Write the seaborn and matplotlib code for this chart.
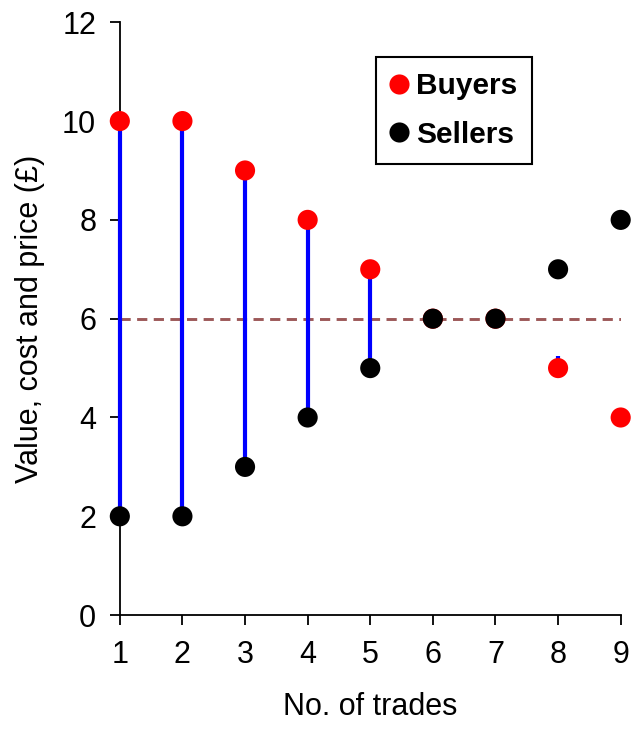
import pandas as pd
import matplotlib.pyplot as plt
import seaborn as sns

# Veriler
trades = [1, 2, 3, 4, 5, 6, 7, 8, 9]
buyers = [10, 10, 9, 8, 7, 6, 6, 5, 4]
sellers = [2, 2, 3, 4, 5, 6, 6, 7, 8]
# mavi çizgiler: alıcı ile satıcı arasındaki fark (6-7 eşit, 8'de küçük bir parça)
line_trades = [1, 2, 3, 4, 5, 8]
line_low = [2, 2, 3, 4, 5, 5]
line_high = [10, 10, 9, 8, 7, 5.25]
equilibrium = 6

sns.set_style("white")
plt.rcParams['font.family'] = ['Liberation Sans', 'DejaVu Sans']
plt.rcParams['text.color'] = 'black'
plt.rcParams['axes.labelcolor'] = 'black'

df = pd.DataFrame({
    'trade': trades * 2,
    'value': buyers + sellers,
    'group': ['Buyers'] * len(trades) + ['Sellers'] * len(trades),
})

fig = plt.figure(figsize=(6.34, 7.42), dpi=100)
ax = fig.add_axes([0.189, 0.171, 0.79, 0.799])

ax.vlines(line_trades, line_low, line_high, color='#0000ff', lw=3,
          zorder=2.7, clip_on=False)
ax.axhline(equilibrium, color='#9c5858', lw=2.1, ls=(0, (3.5, 2.2)), zorder=1)

sns.scatterplot(data=df, x='trade', y='value', hue='group',
                palette={'Buyers': '#ff0000', 'Sellers': '#000000'},
                s=210, edgecolor='none', ax=ax, zorder=3, clip_on=False)

ax.set_xlim(1, 9)
ax.set_ylim(0, 12)
ax.set_xticks(trades)
ax.set_yticks(range(0, 13, 2))
ax.tick_params(axis='both', direction='out', length=7, width=1.3,
               labelsize=22, colors='black')
ax.tick_params(axis='x', pad=11, bottom=True)
ax.tick_params(axis='y', pad=10, left=True)
for s in ['top', 'right']:
    ax.spines[s].set_visible(False)
for s in ['left', 'bottom']:
    ax.spines[s].set_color('black')
    ax.spines[s].set_linewidth(1.3)

ax.set_xlabel('No. of trades', fontsize=22, labelpad=16)
ax.set_ylabel('Value, cost and price (£)', fontsize=22, labelpad=12)

leg = ax.legend(loc='upper left', bbox_to_anchor=(0.481, 0.966), frameon=True,
                fancybox=False, edgecolor='black', framealpha=1,
                prop={'weight': 'bold', 'size': 21.5}, markerscale=1.0,
                handletextpad=0.3, borderpad=0.5, labelspacing=0.68,
                handlelength=0.55)
leg.get_frame().set_linewidth(1.5)
for t in leg.get_texts():
    t.set_color('black')

plt.savefig('out.png', dpi=100)
